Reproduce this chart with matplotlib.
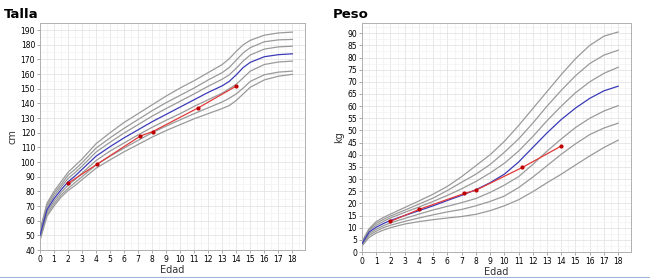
import matplotlib
matplotlib.use('Agg')
import matplotlib.pyplot as plt
from matplotlib.ticker import MultipleLocator

# --- Talla (cm) ---
talla_edad = [0, 0.5, 1, 1.5, 2, 2.5, 3, 4, 5, 6, 7, 8, 9, 10, 11, 12, 13, 13.5, 14, 14.5, 15, 16, 17, 18]
talla_p97 = [53.5, 72, 80, 86.5, 93, 97.5, 102, 112.5, 120, 127, 133, 139, 145, 150.5, 155.5, 161, 166.5, 170.5, 175.5, 180, 183, 186.5, 188, 188.6]
talla_p90 = [52.5, 70.5, 78.5, 84.5, 91, 95, 99.5, 109.5, 116.5, 123, 129, 135, 140.5, 145.5, 150.5, 156, 161, 164.5, 169.5, 174.5, 178, 182, 183.3, 183.6]
talla_p75 = [51.2, 69, 76.8, 82.8, 88.8, 92.8, 97.2, 106.8, 113.5, 119.8, 125.5, 131.3, 136.5, 141.5, 146.5, 151.7, 156.5, 159.5, 164, 169, 173, 177, 178.5, 179]
talla_p50 = [50, 67.5, 75, 81, 86.5, 90.5, 95, 104, 110.5, 116.5, 122, 127.5, 132.5, 137.5, 142.5, 147.5, 152, 155, 159.5, 164.5, 168, 171.8, 173.2, 173.8]
talla_p25 = [48.8, 66, 73.2, 79.2, 84.2, 88, 92.5, 101, 107.5, 113, 118.5, 123.7, 128.5, 133, 138, 142.5, 147, 150, 153, 157.5, 162, 166.5, 168.2, 168.8]
talla_p10 = [47.5, 64.5, 71.5, 77.5, 82, 86, 90, 98, 104, 109.5, 114.8, 120, 124.5, 128.8, 133, 137, 141, 143.5, 146.5, 150.5, 155, 159.5, 161.3, 162]
talla_p3 = [46.5, 63, 70, 76, 80.5, 84, 88, 95.8, 101.5, 107, 112, 117, 121.5, 125.5, 129.5, 133, 136.5, 138.5, 142, 146.5, 151, 156, 158.5, 159.8]
paciente_talla_edad = [2.0, 4.05, 7.15, 8.05, 11.3, 14.0]
paciente_talla = [85.5, 98.4, 117.7, 120.8, 137, 151.8]

# --- Peso (kg) ---
peso_edad = [0, 0.5, 1, 1.5, 2, 3, 4, 5, 6, 7, 8, 9, 10, 11, 12, 13, 14, 15, 16, 17, 18]
peso_p97 = [4.3, 9.6, 12.5, 14.2, 15.6, 18.3, 21, 23.8, 27, 31, 35.5, 40, 45.5, 52, 59, 66, 73, 79.5, 85, 88.8, 90.5]
peso_p90 = [4.1, 9.2, 11.8, 13.4, 14.8, 17.2, 19.7, 22.2, 25.3, 28.7, 32, 36, 41, 46.5, 53, 60, 66.5, 72.5, 77.5, 81, 83]
peso_p75 = [3.8, 8.9, 11, 12.6, 14, 16.3, 18.5, 20.8, 23.3, 26, 29, 32.5, 36.5, 41.5, 47.5, 54, 60, 65.5, 70, 73.5, 76]
peso_p50 = [3.4, 8.2, 10.2, 11.7, 13, 15, 17, 19, 21.2, 23.3, 25.6, 28.5, 32, 37, 43, 49, 54.5, 59.2, 63.2, 66.3, 68.2]
peso_p25 = [3.1, 7.5, 9.4, 10.8, 12, 13.8, 15.6, 17.3, 18.8, 20.3, 22, 24.5, 27.5, 31, 36, 41.5, 46.5, 51.2, 55, 58, 60.2]
peso_p10 = [2.8, 6.8, 8.6, 10, 11, 12.6, 14, 15.3, 16.5, 17.5, 19, 20.8, 23, 26.5, 30.8, 35.5, 40.2, 44.5, 48.3, 51, 53]
peso_p3 = [2.5, 6, 7.8, 9, 10, 11.5, 12.5, 13.3, 14, 14.6, 15.5, 17, 19, 21.5, 24.8, 28.5, 32, 35.8, 39.5, 43, 46]
paciente_peso_edad = [2.0, 4.0, 7.2, 8.0, 11.27, 14.0]
paciente_peso = [12.6, 17.5, 24.1, 25.4, 34.8, 43.6]

GREY = '#9a9a9a'
BLUE = '#3a3ab8'
RED = '#e03a3a'


def draw_panel(ax, edad, grises, mediana, pac_x, pac_y, ylim, ystep, ylabel):
    for serie in grises:
        ax.plot(edad, serie, color=GREY, lw=0.9, zorder=2)
    ax.plot(edad, mediana, color=BLUE, lw=0.9, zorder=3)
    ax.plot(pac_x, pac_y, color=RED, lw=0.9, zorder=4,
            marker='o', markersize=2, markerfacecolor='#c00000', markeredgecolor='#c00000')
    ax.set_xlim(0, 18.9)
    ax.set_ylim(*ylim)
    ax.xaxis.set_major_locator(MultipleLocator(1))
    ax.xaxis.set_minor_locator(MultipleLocator(0.5))
    ax.yaxis.set_major_locator(MultipleLocator(ystep))
    ax.yaxis.set_minor_locator(MultipleLocator(ystep / 2))
    ax.grid(which='major', color='#e4e4e4', lw=0.6, zorder=0)
    ax.grid(which='minor', color='#f1f1f1', lw=0.5, zorder=0)
    ax.tick_params(which='major', labelsize=5.5, length=2, width=0.5, color='#888888', pad=1.5)
    ax.tick_params(which='minor', length=0)
    for s in ax.spines.values():
        s.set_color('#b0b0b0')
        s.set_linewidth(0.7)
    ax.set_xlabel('Edad', fontsize=7, labelpad=1, color='#333333')
    ax.set_ylabel(ylabel, fontsize=7, labelpad=2, color='#333333')


fig = plt.figure(figsize=(6.5, 2.8), dpi=100)

ax1 = fig.add_axes([40 / 650, 30 / 280, 265 / 650, 227 / 280])
draw_panel(ax1, talla_edad,
           [talla_p97, talla_p90, talla_p75, talla_p25, talla_p10, talla_p3],
           talla_p50, paciente_talla_edad, paciente_talla, (40, 194.8), 10, 'cm')

ax2 = fig.add_axes([362 / 650, 28 / 280, 269 / 650, 229 / 280])
draw_panel(ax2, peso_edad,
           [peso_p97, peso_p90, peso_p75, peso_p25, peso_p10, peso_p3],
           peso_p50, paciente_peso_edad, paciente_peso, (0, 94.2), 5, 'kg')

fig.text(4 / 650, 1 - 14 / 280, 'Talla', fontsize=9.5, fontweight='bold', va='center', ha='left')
fig.text(333 / 650, 1 - 14 / 280, 'Peso', fontsize=9.5, fontweight='bold', va='center', ha='left')

# thin window border at the bottom
fig.add_artist(plt.Line2D([0, 1], [3.5 / 280, 3.5 / 280], color='#9fb8d6', lw=0.8))

fig.savefig('out.png', dpi=100)
